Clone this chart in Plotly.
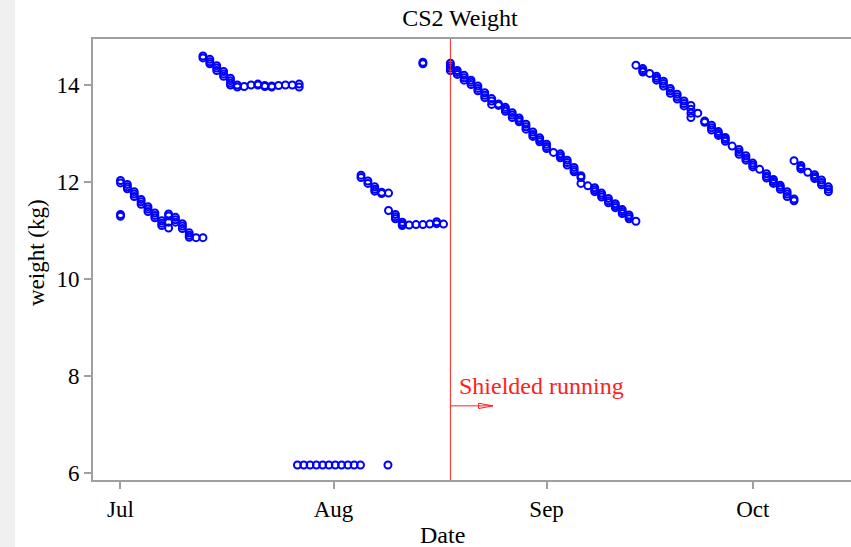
import pandas as pd
import plotly.graph_objects as go

# Daily weight readings (kg); several weighings on the same day share a date
days = [
    "2010-07-01", "2010-07-02", "2010-07-03", "2010-07-04", "2010-07-05",
    "2010-07-06", "2010-07-07", "2010-07-08", "2010-07-09", "2010-07-10",
    "2010-07-11", "2010-07-12", "2010-07-13", "2010-07-14", "2010-07-15",
    "2010-07-16", "2010-07-17", "2010-07-18", "2010-07-19", "2010-07-20",
    "2010-07-21", "2010-07-22", "2010-07-23", "2010-07-24", "2010-07-25",
    "2010-07-26", "2010-07-27",
    "2010-08-05", "2010-08-06", "2010-08-07", "2010-08-08", "2010-08-09",
    "2010-08-10", "2010-08-11", "2010-08-12", "2010-08-13", "2010-08-14",
    "2010-08-15", "2010-08-16", "2010-08-17",
    "2010-08-18", "2010-08-19", "2010-08-20", "2010-08-21", "2010-08-22",
    "2010-08-23", "2010-08-24", "2010-08-25", "2010-08-26", "2010-08-27",
    "2010-08-28", "2010-08-29", "2010-08-30", "2010-08-31", "2010-09-01",
    "2010-09-02", "2010-09-03", "2010-09-04", "2010-09-05", "2010-09-06",
    "2010-09-07", "2010-09-08", "2010-09-09", "2010-09-10", "2010-09-11",
    "2010-09-12", "2010-09-13", "2010-09-14",
    "2010-09-15", "2010-09-16", "2010-09-17", "2010-09-18", "2010-09-19",
    "2010-09-20", "2010-09-21", "2010-09-22", "2010-09-23", "2010-09-24",
    "2010-09-25", "2010-09-26", "2010-09-27", "2010-09-28", "2010-09-29",
    "2010-09-30", "2010-10-01", "2010-10-02", "2010-10-03", "2010-10-04",
    "2010-10-05", "2010-10-06", "2010-10-07",
    "2010-10-08", "2010-10-09", "2010-10-10", "2010-10-11", "2010-10-12",
]
readings = [
    [12.03, 11.98, 11.33, 11.29], [11.95, 11.90, 11.86], [11.80, 11.75, 11.70],
    [11.64, 11.59, 11.54], [11.49, 11.44, 11.39], [11.36, 11.31, 11.26],
    [11.20, 11.15, 11.10], [11.34, 11.30, 11.17, 11.05], [11.27, 11.22, 11.17],
    [11.14, 11.09, 11.04], [10.95, 10.90, 10.86], [10.85],
    [10.85, 14.60, 14.56], [14.53, 14.48, 14.44], [14.40, 14.35, 14.30],
    [14.28, 14.23, 14.18], [14.14, 14.09, 14.04, 14.00], [14.00, 13.96],
    [13.97], [14.00], [14.02, 14.00], [13.99, 13.97], [13.98, 13.96],
    [13.99], [14.00], [14.00], [14.02, 13.96],
    [12.14, 12.09], [12.02, 11.97], [11.90, 11.85, 11.81], [11.79, 11.76],
    [11.77, 11.41], [11.33, 11.28, 11.24], [11.17, 11.13, 11.10], [11.11],
    [11.12], [11.12, 14.47, 14.44], [11.13], [11.18, 11.14], [11.13],
    [14.45, 14.40, 14.35, 14.30], [14.30, 14.26, 14.22], [14.20, 14.15, 14.10],
    [14.10, 14.06, 14.01], [13.98, 13.93, 13.88], [13.84, 13.79, 13.74],
    [13.72, 13.67, 13.60], [13.61, 13.58], [13.54, 13.50, 13.46],
    [13.43, 13.38, 13.33], [13.32, 13.28, 13.24], [13.19, 13.14, 13.09],
    [13.03, 12.98, 12.94], [12.91, 12.87, 12.83], [12.78, 12.73, 12.69],
    [12.61], [12.58, 12.54, 12.50], [12.45, 12.40, 12.35], [12.30, 12.25, 12.21],
    [12.13, 12.09, 11.97], [11.92], [11.88, 11.84, 11.80], [11.77, 11.73, 11.69],
    [11.66, 11.61, 11.57], [11.55, 11.51, 11.47], [11.43, 11.39, 11.35],
    [11.32, 11.28, 11.24], [11.19, 14.41],
    [14.34, 14.30, 14.27], [14.24], [14.18, 14.14, 14.10], [14.08, 14.03, 13.98],
    [13.93, 13.88, 13.83], [13.81, 13.76, 13.71], [13.67, 13.62, 13.57],
    [13.58, 13.50, 13.42, 13.33], [13.42], [13.26, 13.23], [13.17, 13.12, 13.07],
    [13.04, 13.00, 12.96], [12.92, 12.88, 12.84], [12.74], [12.67, 12.62, 12.57],
    [12.54, 12.49, 12.45], [12.39, 12.35, 12.31], [12.26], [12.17, 12.12, 12.08],
    [12.05, 12.01, 11.97], [11.93, 11.89, 11.85], [11.80, 11.75, 11.70],
    [11.65, 11.61, 12.44],
    [12.34, 12.30, 12.27], [12.20], [12.15, 12.11, 12.07], [12.04, 11.99, 11.94],
    [11.90, 11.85, 11.80],
]

# Faulty scale readings logged near 6 kg
low_times = [
    "2010-07-26 18:00", "2010-07-27 16:00", "2010-07-28 14:00", "2010-07-29 12:00",
    "2010-07-30 10:00", "2010-07-31 08:00", "2010-08-01 06:00", "2010-08-02 04:00",
    "2010-08-03 02:00", "2010-08-04 00:00", "2010-08-04 22:00", "2010-08-08 22:00",
]
low_values = [6.16, 6.16, 6.16, 6.16, 6.16, 6.16, 6.16, 6.16, 6.16, 6.16, 6.16, 6.16]

tick_dates = ["2010-07-01", "2010-08-01", "2010-09-01", "2010-10-01"]
tick_labels = ["Jul", "Aug", "Sep", "Oct"]
y_ticks = [6, 8, 10, 12, 14]

shield_start = "2010-08-18"
shield_label = "Shielded running"

x_all, y_all = [], []
for d, vals in zip(days, readings):
    for v in vals:
        x_all.append(d)
        y_all.append(v)
x_all += low_times
y_all += low_values

SERIF = "Liberation Serif, Times New Roman, serif"
BLUE = "#0000ff"
RED = "#ff2020"
AXIS = "#a0a0a0"

fig = go.Figure()
fig.add_trace(go.Scatter(
    x=pd.to_datetime(x_all, format="mixed"), y=y_all, mode="markers",
    marker=dict(symbol="circle-open", size=7, color=BLUE, line=dict(width=2.0, color=BLUE)),
    showlegend=False, hoverinfo="x+y",
))

# Arrow pointing right from the start of shielded running
t0 = pd.Timestamp(shield_start)
arrow_y = 7.38
tip = t0 + pd.Timedelta(days=6.2)
base = t0 + pd.Timedelta(days=4.1)
fig.add_trace(go.Scatter(
    x=[t0, tip, None, base, tip, base, base],
    y=[arrow_y, arrow_y, None, arrow_y + 0.055, arrow_y, arrow_y - 0.055, arrow_y + 0.055],
    mode="lines", line=dict(color=RED, width=1), showlegend=False, hoverinfo="skip",
))

fig.add_shape(type="line", xref="x", yref="paper", x0=t0, x1=t0, y0=0, y1=1,
              line=dict(color=RED, width=1))

# Light strip at the far left of the page
fig.add_shape(type="rect", xref="paper", yref="paper", x0=-0.2, x1=-0.1029,
              y0=-0.3, y1=1.2, fillcolor="#f0f0f0", line=dict(width=0), layer="below")

fig.add_annotation(x=t0 + pd.Timedelta(days=1.0), y=7.79, xref="x", yref="y",
                   text=shield_label, showarrow=False, xanchor="left", yanchor="middle",
                   font=dict(family=SERIF, size=24, color=RED))
fig.add_annotation(x=0.4617, y=-0.1247, xref="paper", yref="paper", text="Date",
                   showarrow=False, xanchor="center", yanchor="middle",
                   font=dict(family=SERIF, size=24, color="black"))
fig.add_annotation(x=-0.0752, y=0.517, xref="paper", yref="paper", text="weight (kg)",
                   showarrow=False, xanchor="center", yanchor="middle", textangle=-90,
                   font=dict(family=SERIF, size=23, color="black"))

fig.update_layout(
    width=851, height=547,
    margin=dict(l=93, r=0, t=39, b=67),
    paper_bgcolor="white", plot_bgcolor="white",
    title=dict(text="CS2 Weight", x=0.5405, xref="container", xanchor="center",
               y=0.967, yref="container", yanchor="middle",
               font=dict(family=SERIF, size=24, color="black")),
    xaxis=dict(
        type="date", range=["2010-06-27 00:00", "2010-10-15 07:00"],
        tickvals=pd.to_datetime(tick_dates), ticktext=tick_labels,
        ticks="outside", ticklen=7, tickwidth=1.5, tickcolor=AXIS,
        showline=True, linecolor=AXIS, linewidth=2, mirror=True,
        showgrid=False, zeroline=False,
        tickfont=dict(family=SERIF, size=23, color="black"),
    ),
    yaxis=dict(
        range=[5.85, 14.95], tickvals=y_ticks,
        ticks="outside", ticklen=7, tickwidth=1.5, tickcolor=AXIS,
        showline=True, linecolor=AXIS, linewidth=2, mirror=False,
        showgrid=False, zeroline=False,
        tickfont=dict(family=SERIF, size=23, color="black"),
    ),
)

fig.write_html("out.html")
